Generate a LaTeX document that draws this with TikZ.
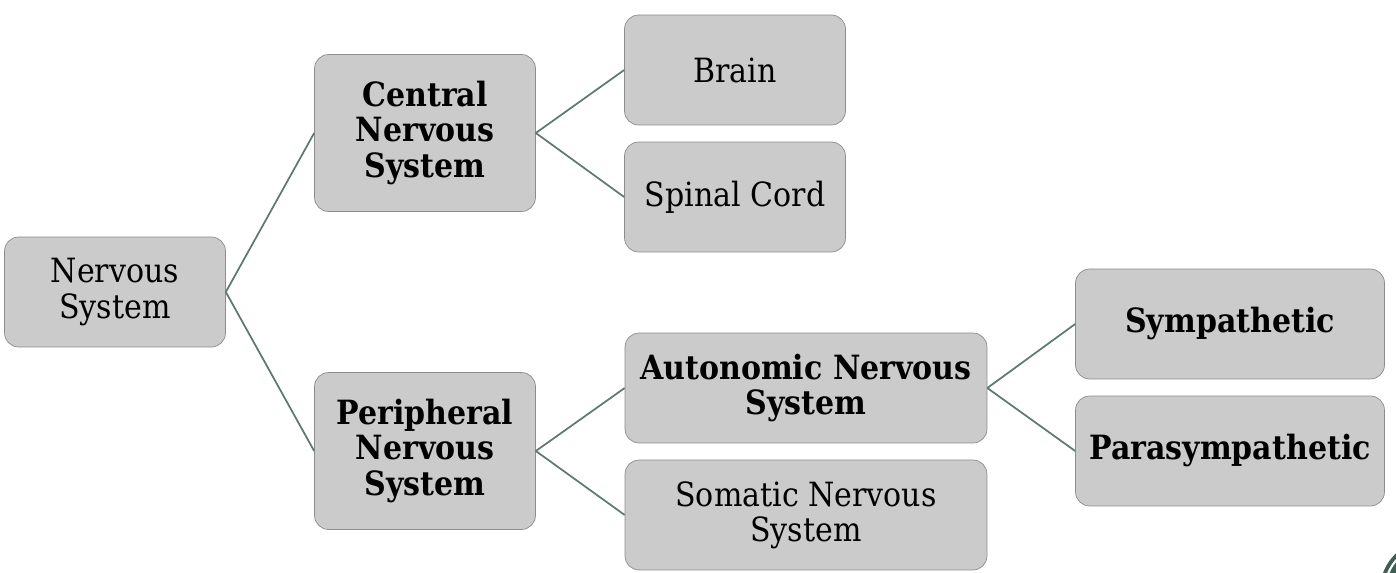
\documentclass[tikz,border=0pt]{standalone}
\usepackage{fontspec}
\setmainfont{DejaVu Serif Condensed}
\usetikzlibrary{positioning}

\definecolor{boxfill}{HTML}{CBCBCB}
\definecolor{boxline}{HTML}{8C8C8C}
\definecolor{linkcol}{HTML}{5F7A70}
\definecolor{cornergreen}{HTML}{3D5E52}

\begin{document}
\begin{tikzpicture}[x=0.02cm, y=-0.02cm,
  every node/.style={font=\fontsize{19}{20}\selectfont},
  box/.style={draw=boxline, fill=boxfill, rounded corners=8pt, align=center,
    inner sep=2pt, minimum width=4.42cm, minimum height=2.2cm},
  tallbox/.style={box, minimum height=3.14cm},
  widebox/.style={box, minimum width=7.24cm},
  sidebox/.style={box, minimum width=6.18cm},
  link/.style={draw=linkcol, line width=1pt}]
\path[use as bounding box] (0,0) rectangle (1396,572);
\node[box] (NS) at (115,292) {Nervous\\System};
\node[tallbox] (CNS) at (425,133) {\bfseries Central\\\bfseries Nervous\\\bfseries System};
\node[tallbox] (PNS) at (425,451) {\bfseries Peripheral\\\bfseries Nervous\\\bfseries System};
\node[box] (Brain) at (735,70) {Brain};
\node[box] (Spinal) at (735,197) {Spinal Cord};
\node[widebox] (ANS) at (806,388) {\bfseries Autonomic Nervous\\\bfseries System};
\node[widebox] (SNS) at (806,515) {Somatic Nervous\\System};
\node[sidebox] (Sym) at (1230,324) {\bfseries Sympathetic};
\node[sidebox] (Para) at (1230,451) {\bfseries Parasympathetic};
\draw[link] (NS.east) -- (CNS.west);
\draw[link] (NS.east) -- (PNS.west);
\draw[link] (CNS.east) -- (Brain.west);
\draw[link] (CNS.east) -- (Spinal.west);
\draw[link] (PNS.east) -- (ANS.west);
\draw[link] (PNS.east) -- (SNS.west);
\draw[link] (ANS.east) -- (Sym.west);
\draw[link] (ANS.east) -- (Para.west);
% corner badge of the slide
\fill[cornergreen] (1430,590) circle[radius=50];
\draw[white, line width=1.2pt] (1430,590) circle[radius=45];
\end{tikzpicture}
\end{document}
